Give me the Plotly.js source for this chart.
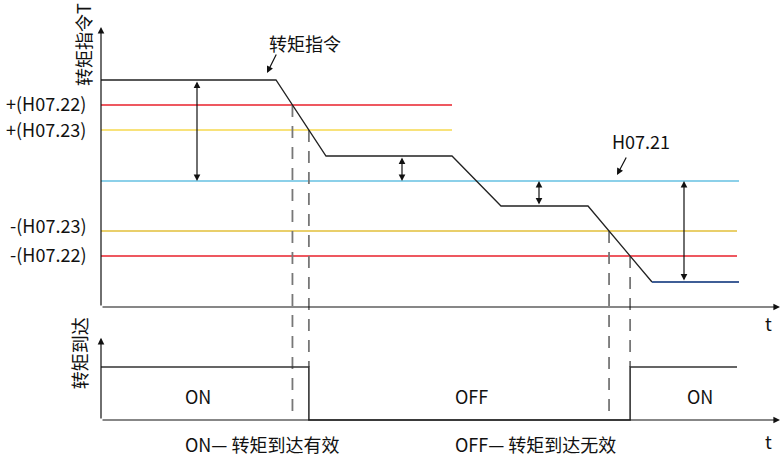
<!DOCTYPE html>
<html>
<head>
<meta charset="utf-8">
<script src="https://cdn.plot.ly/plotly-3.0.1.min.js"></script>
<style>html,body{margin:0;padding:0;background:#fff}#chart{width:782px;height:458px}</style>
</head>
<body>
<div id="chart"></div>
<script>
// ---- data (time in arbitrary units, torque in arbitrary units) ----
const tCmd = [0, 175, 225, 351, 400, 487, 551];
const torqueCmd = [227, 227, 151, 151, 101, 101, 25];
const tCmdTail = [551, 638];
const torqueCmdTail = [25, 25];

const thrNames = ['+(H07.22)', '+(H07.23)', 'H07.21', '-(H07.23)', '-(H07.22)'];
const thrValues = [202, 177, 126, 76, 51];
const thrEnd = [351, 351, 638, 636, 636];

const tAxisEnd = 679;
const torqueAxisTop = 280;
const signalAxisTop = 1.55;

// double arrows: [time, from, to]
const arrowT = [96, 301, 438, 583];
const arrowFrom = [227, 151, 101, 25];
const arrowTo = [126, 126, 126, 126];

const sigLabels = ['ON', 'OFF', 'ON'];
const sigLabelT = [97, 370, 599];
const captions = ['ON— 转矩到达有效', 'OFF— 转矩到达无效'];
const captionT = [161, 434];

// ---- helpers ----
function crossing(level, segStart) {
  const t0 = tCmd[segStart], t1 = tCmd[segStart + 1];
  const v0 = torqueCmd[segStart], v1 = torqueCmd[segStart + 1];
  return t0 + (level - v0) / (v1 - v0) * (t1 - t0);
}
const tOn1 = crossing(thrValues[0], 1);
const tOff1 = crossing(thrValues[1], 1);
const tOff2 = crossing(thrValues[3], 5);
const tOn2 = crossing(thrValues[4], 5);

const tSig = [0, tOff1, tOff1, tOn2, tOn2, 636];
const sig = [1, 1, 0, 0, 1, 1];

const FONT = '"Noto Sans CJK SC", "Noto Sans", sans-serif';
const thrColors = ['#e8212b', '#f6d94e', '#66c0e2', '#e2bf3a', '#e8212b'];

const traces = [];
// thresholds
thrValues.forEach((v, i) => {
  traces.push({x: [0, thrEnd[i]], y: [v, v], mode: 'lines', line: {color: thrColors[i], width: 1.6}, xaxis: 'x', yaxis: 'y'});
});
// dashed lines
const dashes = [[tOn1, thrValues[0], -110], [tOff1, thrValues[1], -60], [tOff2, thrValues[3], -108], [tOn2, thrValues[4], -60]];
dashes.forEach(d => {
  traces.push({x: [d[0], d[0]], y: [d[1], d[2]], mode: 'lines', line: {color: '#777', width: 1.8, dash: '12px,9px'}});
});
// torque command
traces.push({x: tCmd, y: torqueCmd, mode: 'lines', line: {color: '#222', width: 1.3}});
traces.push({x: tCmdTail, y: torqueCmdTail, mode: 'lines', line: {color: '#3f5e96', width: 1.8}});
// signal
traces.push({x: tSig, y: sig, mode: 'lines', line: {color: '#333', width: 1.6}, yaxis: 'y2'});

const ann = [];
function arrow(x, y, ax, ay, yref, both) {
  ann.push({x: x, y: y, ax: ax, ay: ay, xref: 'x', yref: yref, axref: 'x', ayref: yref,
    text: '', showarrow: true, arrowhead: 2, arrowsize: 1.1, arrowwidth: 1.2, arrowcolor: '#111',
    arrowside: both ? 'end+start' : 'end', startarrowhead: 2, startarrowsize: 1.1, standoff: 0, startstandoff: 0});
}
// axes
arrow(0, torqueAxisTop, 0, 0, 'y');
arrow(tAxisEnd, 0, 0, 0, 'y');
arrow(0, signalAxisTop, 0, 0, 'y2');
arrow(tAxisEnd, 0, 0, 0, 'y2');
// double arrows
arrowT.forEach((t, i) => arrow(t, arrowTo[i], t, arrowFrom[i], 'y', true));
// callout arrows
arrow(166, 234, 176, 254, 'y');
arrow(516, 132, 526, 151, 'y');

function label(text, x, y, yref, opts) {
  ann.push(Object.assign({x: x, y: y, xref: 'x', yref: yref, text: text, showarrow: false,
    font: {family: FONT, size: 18, color: '#111'}}, opts || {}));
}
label('转矩指令T', -18, 262, 'y', {textangle: -90});
label('转矩到达', -22, 1.26, 'y2', {textangle: -90});
label(thrNames[0], -13, thrValues[0] + 2, 'y', {xanchor: 'right'});
label(thrNames[1], -13, thrValues[1] + 1, 'y', {xanchor: 'right'});
label(thrNames[3], -13, thrValues[3] + 6, 'y', {xanchor: 'right'});
label(thrNames[4], -13, thrValues[4] + 2, 'y', {xanchor: 'right'});
label('转矩指令', 204, 264, 'y');
label(thrNames[2], 540, 166, 'y');
label('t', 667, -16, 'y');
label('t', 667, -0.4, 'y2');
sigLabels.forEach((s, i) => label(s, sigLabelT[i], 0.45, 'y2'));
captions.forEach((c, i) => label(c, captionT[i], -0.45, 'y2'));

const layout = {
  width: 782, height: 458,
  margin: {l: 0, r: 0, t: 0, b: 0, pad: 0},
  paper_bgcolor: '#fff', plot_bgcolor: '#fff',
  showlegend: false, hovermode: false,
  xaxis: {range: [-101, 681], visible: false, fixedrange: true},
  yaxis: {range: [-151, 307], visible: false, fixedrange: true},
  yaxis2: {range: [-38 / 53, 420 / 53], visible: false, overlaying: 'y', fixedrange: true},
  annotations: ann
};
Plotly.newPlot('chart', traces, layout, {staticPlot: true, displayModeBar: false});
</script>
</body>
</html>
